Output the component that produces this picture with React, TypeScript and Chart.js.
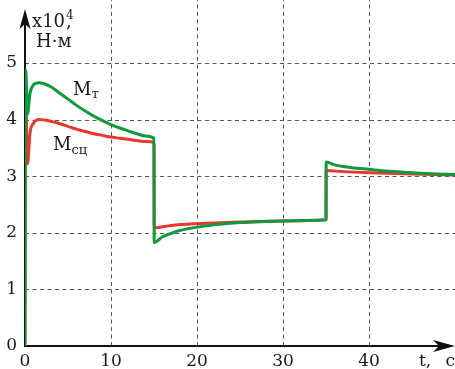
import React, { useEffect, useRef } from "react";
import { Chart, registerables } from "chart.js";

Chart.register(...registerables);

// Data (t in seconds, torque ×10^4 N·m)
const greenT = [0, 0.08, 0.3, 0.58, 0.97, 1.6, 3, 4, 5, 6, 7, 8, 9, 10, 11, 12, 13, 14, 15, 15.02, 16, 17, 18, 20, 22, 25, 28, 30, 35, 35.02, 36, 37, 38, 40, 42, 44, 46, 48, 50];
const greenV = [0, 4.88, 4.1, 4.46, 4.61, 4.65, 4.58, 4.47, 4.36, 4.25, 4.15, 4.06, 3.98, 3.91, 3.85, 3.8, 3.75, 3.71, 3.67, 1.83, 1.93, 1.99, 2.04, 2.1, 2.14, 2.18, 2.2, 2.21, 2.23, 3.25, 3.2, 3.17, 3.15, 3.12, 3.09, 3.07, 3.05, 3.04, 3.03];
const redT = [0, 0.02, 0.3, 0.58, 0.97, 1.6, 3, 4, 5, 6, 7, 8, 9, 10, 11, 12, 13, 14, 15, 15.02, 17, 20, 25, 30, 35, 35.02, 37, 40, 45, 50];
const redV = [0, 4.78, 3.22, 3.76, 3.93, 4.0, 3.97, 3.93, 3.88, 3.83, 3.79, 3.75, 3.72, 3.69, 3.67, 3.65, 3.63, 3.61, 3.6, 2.09, 2.13, 2.16, 2.19, 2.21, 2.23, 3.1, 3.08, 3.06, 3.04, 3.02];
const xTicks = [0, 10, 20, 30, 40];
const yTicks = [0, 1, 2, 3, 4, 5];
const xGrid = [10, 20, 30, 40];
const yGrid = [1, 2, 3, 4, 5];

const GREEN = "#10993f";
const RED = "#e8372c";
const FONT = '"DejaVu Serif", serif';

const decor = {
  id: "decor",
  beforeDatasetsDraw(chart: any) {
    const { ctx, chartArea, scales } = chart;
    const { left, right, bottom } = chartArea;
    const x = scales.x;
    const y = scales.y;
    ctx.save();
    ctx.strokeStyle = "#555";
    ctx.lineWidth = 1;
    ctx.setLineDash([4, 3.5]);
    for (const v of xGrid) {
      const px = Math.round(x.getPixelForValue(v)) + 0.5;
      ctx.beginPath();
      ctx.moveTo(px, bottom);
      ctx.lineTo(px, 0);
      ctx.stroke();
    }
    for (const v of yGrid) {
      const py = Math.round(y.getPixelForValue(v)) + 0.5;
      ctx.beginPath();
      ctx.moveTo(left, py);
      ctx.lineTo(right, py);
      ctx.stroke();
    }
    ctx.setLineDash([]);
    // axes
    ctx.strokeStyle = "#111";
    ctx.fillStyle = "#111";
    ctx.lineWidth = 2;
    const ax = x.getPixelForValue(0);
    const ay = y.getPixelForValue(0);
    ctx.beginPath();
    ctx.moveTo(ax, ay + 1);
    ctx.lineTo(ax, 24);
    ctx.stroke();
    ctx.beginPath();
    ctx.moveTo(ax - 1, ay);
    ctx.lineTo(right - 12, ay);
    ctx.stroke();
    // y arrow
    ctx.beginPath();
    ctx.moveTo(ax, 9);
    ctx.lineTo(ax + 5.5, 29);
    ctx.lineTo(ax, 24);
    ctx.lineTo(ax - 5.5, 29);
    ctx.closePath();
    ctx.fill();
    // x arrow
    ctx.beginPath();
    ctx.moveTo(right, ay);
    ctx.lineTo(right - 22, ay - 6);
    ctx.lineTo(right - 16, ay);
    ctx.lineTo(right - 22, ay + 6);
    ctx.closePath();
    ctx.fill();
    ctx.restore();
  },
  afterDraw(chart: any) {
    const { ctx } = chart;
    ctx.save();
    ctx.fillStyle = "#1a1a1a";
    ctx.textBaseline = "alphabetic";
    ctx.textAlign = "left";
    ctx.font = `18px ${FONT}`;
    ctx.fillText("x10", 32, 27);
    const w = ctx.measureText("x10").width;
    ctx.font = `12px ${FONT}`;
    ctx.fillText("4", 32 + w + 1, 19);
    ctx.font = `18px ${FONT}`;
    ctx.fillText(",", 32 + w + 1, 27);
    ctx.fillText("Н·м", 36, 47);
    // M_T
    ctx.fillText("М", 73, 95);
    let mw = ctx.measureText("М").width;
    ctx.font = `13px ${FONT}`;
    ctx.fillText("т", 73 + mw, 98);
    // M_sc
    ctx.font = `18px ${FONT}`;
    ctx.fillText("М", 53, 150);
    mw = ctx.measureText("М").width;
    ctx.font = `13px ${FONT}`;
    ctx.fillText("сц", 53 + mw, 154);
    // t, c
    ctx.font = `17px ${FONT}`;
    ctx.fillText("t,", 419, 366);
    ctx.textAlign = "right";
    ctx.fillText("с", 455, 366);
    ctx.restore();
  },
};

export default function App() {
  const ref = useRef<HTMLCanvasElement | null>(null);
  useEffect(() => {
    document.body.style.margin = "0";
    const canvas = ref.current;
    if (!canvas) return;
    const chart = new Chart(canvas, {
      type: "line",
      data: {
        datasets: [
          {
            label: "Мт",
            data: greenT.map((t, i) => ({ x: t, y: greenV[i] })),
            borderColor: GREEN,
            borderWidth: 3,
            pointRadius: 0,
            cubicInterpolationMode: "monotone",
            fill: false,
          },
          {
            label: "Мсц",
            data: redT.map((t, i) => ({ x: t, y: redV[i] })),
            borderColor: RED,
            borderWidth: 3,
            pointRadius: 0,
            cubicInterpolationMode: "monotone",
            fill: false,
          },
        ],
      },
      plugins: [decor],
      options: {
        responsive: false,
        animation: false,
        devicePixelRatio: 1,
        layout: { padding: { top: 4, right: 0, left: 0, bottom: 0 } },
        plugins: { legend: { display: false }, tooltip: { enabled: false } },
        scales: {
          x: {
            type: "linear",
            min: 0,
            max: 50,
            grid: { display: false, drawTicks: false },
            border: { display: false },
            afterBuildTicks: (s: any) => {
              s.ticks = xTicks.map((v) => ({ value: v }));
            },
            afterFit: (s: any) => {
              s.height = 23;
            },
            ticks: {
              padding: 5,
              color: "#1a1a1a",
              font: { family: FONT, size: 17 },
              maxRotation: 0,
            },
          },
          y: {
            type: "linear",
            min: 0,
            max: 5.79,
            grid: { display: false, drawTicks: false },
            border: { display: false },
            afterBuildTicks: (s: any) => {
              s.ticks = yTicks.map((v) => ({ value: v }));
            },
            afterFit: (s: any) => {
              s.width = 25;
            },
            ticks: {
              padding: 8,
              color: "#1a1a1a",
              font: { family: FONT, size: 17 },
            },
          },
        },
      },
    });
    return () => chart.destroy();
  }, []);
  return (
    <div style={{ width: 455, height: 369, background: "#fff" }}>
      <canvas ref={ref} width={455} height={369} style={{ width: 455, height: 369, display: "block" }} />
    </div>
  );
}
